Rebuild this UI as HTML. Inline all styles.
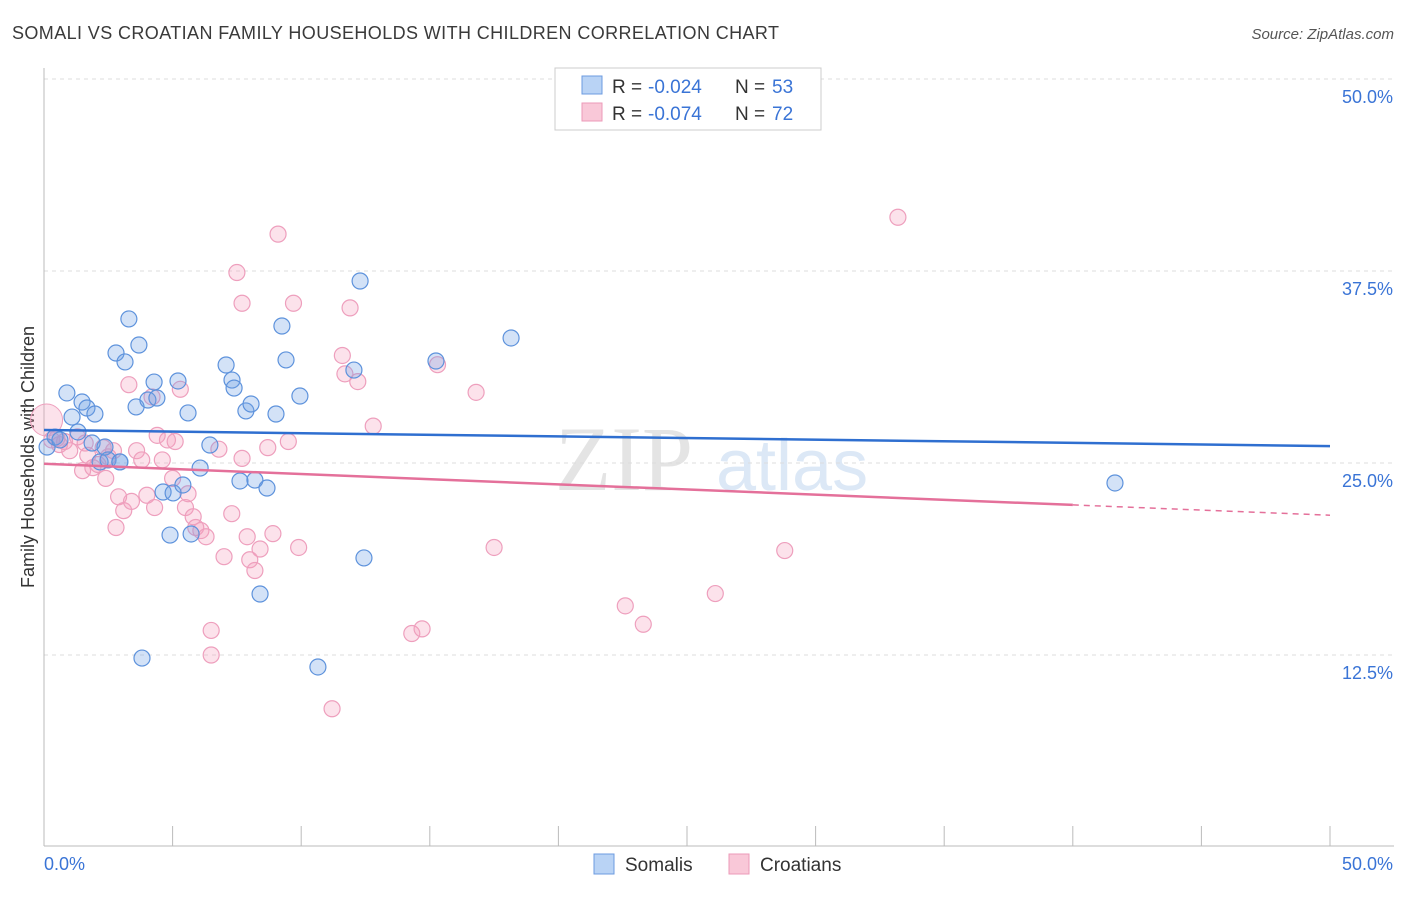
<!DOCTYPE html>
<html><head><meta charset="utf-8"><style>
body{margin:0;background:#fff;font-family:"Liberation Sans",sans-serif;}
</style></head><body>
<svg id="chart" width="1406" height="892" xmlns="http://www.w3.org/2000/svg" font-family="Liberation Sans, sans-serif">
<text x="12" y="39" font-size="18" fill="#3a3a3a" textLength="767" lengthAdjust="spacing">SOMALI VS CROATIAN FAMILY HOUSEHOLDS WITH CHILDREN CORRELATION CHART</text>
<text x="1394" y="39" font-size="15" fill="#555" text-anchor="end" font-style="italic">Source: ZipAtlas.com</text>
<text x="555" y="490" font-size="92" fill="#e4e4e4" font-family="Liberation Serif, serif">ZIP</text>
<text x="716" y="490" font-size="72" fill="#dce8f6">atlas</text>
<text transform="translate(34,457) rotate(-90)" font-size="18" fill="#333" text-anchor="middle">Family Households with Children</text>
<g id="grid"></g><g id="axes"></g><g id="marks"></g>
<g>
<rect x="555" y="68" width="266" height="62" fill="#fff" stroke="#ccc"/>
<rect x="582" y="76" width="20" height="18" fill="#b9d3f5" stroke="#6c9be0"/>
<rect x="582" y="103" width="20" height="18" fill="#f9c8d8" stroke="#ec9ab8"/>
<text x="612" y="93" font-size="19" fill="#333">R =</text>
<text x="648" y="93" font-size="19" fill="#3a74d6">-0.024</text>
<text x="735" y="93" font-size="19" fill="#333">N =</text>
<text x="772" y="93" font-size="19" fill="#3a74d6">53</text>
<text x="612" y="120" font-size="19" fill="#333">R =</text>
<text x="648" y="120" font-size="19" fill="#3a74d6">-0.074</text>
<text x="735" y="120" font-size="19" fill="#333">N =</text>
<text x="772" y="120" font-size="19" fill="#3a74d6">72</text>
</g>
<g>
<rect x="594" y="854" width="20" height="20" fill="#b9d3f5" stroke="#6c9be0"/>
<text x="625" y="871" font-size="19" fill="#333">Somalis</text>
<rect x="729" y="854" width="20" height="20" fill="#f9c8d8" stroke="#ec9ab8"/>
<text x="760" y="871" font-size="19" fill="#333">Croatians</text>
</g>
</svg>
<script>
const yTicks=[12.5,25,37.5,50];
const yTickLabels=["12.5%","25.0%","37.5%","50.0%"];
const xTickLabels=["0.0%","50.0%"];
const somaliX=[0.12,0.43,0.62,0.89,1.09,1.32,1.48,1.67,1.98,1.87,2.18,2.37,2.49,2.95,2.8,3.15,3.3,3.69,3.58,4.04,4.28,4.39,4.63,4.9,5.02,5.21,5.4,5.6,5.72,6.07,6.45,7.08,7.31,7.39,7.62,7.85,8.05,8.2,8.4,8.67,9.02,9.25,9.41,9.95,10.65,12.05,12.29,12.44,15.24,18.16,3.81,41.64,2.95];
const somaliY=[26.04,26.69,26.5,29.56,27.99,27.02,28.97,28.58,28.19,26.3,25.07,26.04,25.2,25.07,32.16,31.58,34.38,32.68,28.65,29.1,30.27,29.23,23.11,20.31,23.05,30.34,23.57,28.26,20.38,24.67,26.17,31.38,30.4,29.88,23.83,28.39,28.84,23.89,16.47,23.37,28.19,33.92,31.71,29.36,11.72,31.05,36.85,18.82,31.64,33.14,12.3,23.7,25.07];
const croatX=[0.3,0.5,0.8,1.0,1.3,1.5,1.7,1.9,2.1,2.3,2.4,2.7,2.8,2.9,3.1,3.3,3.4,3.6,3.8,4.0,4.2,4.3,4.4,4.6,4.8,5.0,5.1,5.3,5.5,5.6,5.8,5.9,6.1,6.3,6.5,6.5,6.8,7.0,7.3,7.5,7.7,7.7,7.9,8.0,8.2,8.4,8.7,8.9,9.1,9.5,9.7,9.9,11.2,11.6,11.7,11.9,12.2,12.8,14.3,14.7,15.3,16.8,17.5,22.6,23.3,26.1,28.8,33.2,0.6,1.6,2.5];
const croatY=[26.5,26.6,26.4,25.8,26.7,24.5,25.5,24.7,24.9,26.0,24.0,25.8,20.8,22.8,21.9,30.1,22.5,25.8,25.2,22.9,29.3,22.1,26.8,25.2,26.5,24.0,26.4,29.8,22.1,23.0,21.5,20.8,20.6,20.2,14.1,12.5,25.9,18.9,21.7,37.4,35.4,25.3,20.2,18.7,18.0,19.4,26.0,20.4,39.9,26.4,35.4,19.5,9.0,32.0,30.8,35.1,30.3,27.4,13.9,14.2,31.4,29.6,19.5,15.7,14.5,16.5,19.3,41.0,26.2,26.3,25.4];
const bigPoint=[0.1,27.8];
const somaliTrend=[27.15,26.1];
const croatTrend=[24.95,22.27,21.6];
const NS="http://www.w3.org/2000/svg";
const X=v=>44+v*25.72, Y=v=>847-v*15.36;
function mk(t,a,p){const e=document.createElementNS(NS,t);for(const k in a)e.setAttribute(k,a[k]);p.appendChild(e);return e;}
const grid=document.getElementById('grid'),axes=document.getElementById('axes'),marks=document.getElementById('marks');
yTicks.forEach((t,i)=>{
 const l=mk('line',{x1:44,x2:1394,y1:Y(t),y2:Y(t),stroke:'#ddd','stroke-dasharray':'4,4'},grid);
 
 
 const tx=mk('text',{x:1393,y:Y(t)+24,'font-size':18,fill:'#3a74d6','text-anchor':'end'},axes);
 tx.textContent=yTickLabels[i];
 
 
});
mk('line',{x1:44,x2:44,y1:68,y2:846,stroke:'#bbb'},axes);
mk('line',{x1:44,x2:1394,y1:846,y2:846,stroke:'#bbb'},axes);
for(let i=0;i<=10;i++){const t=mk('line',{x1:X(i*5),x2:X(i*5),y1:826,y2:846,stroke:'#bbb'},axes);
 
 }
const x0=mk('text',{x:44,y:870,'font-size':18,fill:'#3a74d6'},axes);x0.textContent=xTickLabels[0];


const x1=mk('text',{x:1393,y:870,'font-size':18,fill:'#3a74d6','text-anchor':'end'},axes);x1.textContent=xTickLabels[1];


const bp=mk('circle',{cx:X(bigPoint[0]),cy:Y(bigPoint[1]),r:16,fill:'rgba(244,160,190,0.3)',stroke:'#ee9fbd'},marks);


croatX.forEach((v,i)=>{const c=mk('circle',{cx:X(v),cy:Y(croatY[i]),r:8,fill:'rgba(244,160,190,0.3)',stroke:'#ee9fbd','stroke-width':1.2},marks);
 
 });
somaliX.forEach((v,i)=>{const c=mk('circle',{cx:X(v),cy:Y(somaliY[i]),r:8,fill:'rgba(110,160,230,0.3)',stroke:'#5d92dc','stroke-width':1.2},marks);
 
 });
const bt=mk('line',{x1:X(0),x2:X(50),y1:Y(somaliTrend[0]),y2:Y(somaliTrend[1]),stroke:'#2f6fd0','stroke-width':2.5},marks);


const pt=mk('line',{x1:X(0),x2:X(40),y1:Y(croatTrend[0]),y2:Y(croatTrend[1]),stroke:'#e4709a','stroke-width':2.5},marks);


const pd=mk('line',{x1:X(40),x2:X(50),y1:Y(croatTrend[1]),y2:Y(croatTrend[2]),stroke:'#e4709a','stroke-width':1.5,'stroke-dasharray':'6,5'},marks);


</script>
</body></html>
